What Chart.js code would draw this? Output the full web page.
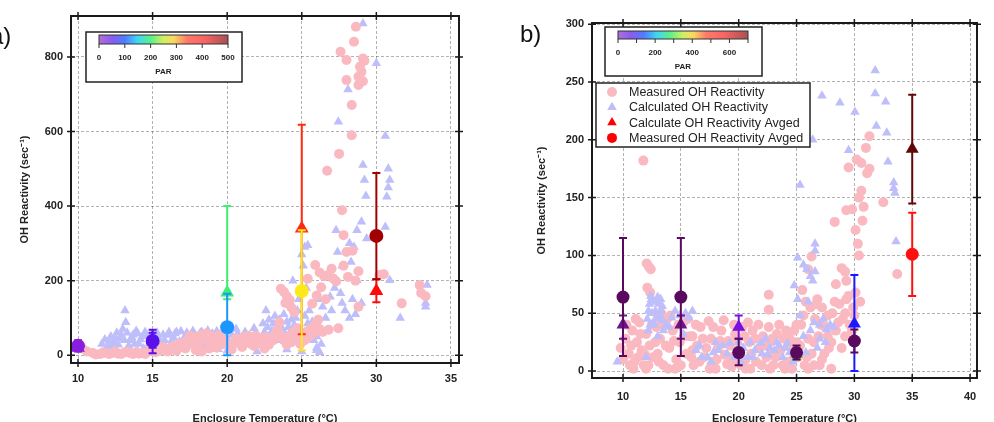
<!DOCTYPE html>
<html>
<head>
<meta charset="utf-8">
<script src="https://cdn.jsdelivr.net/npm/chart.js@4/dist/chart.umd.min.js"></script>
<style>
  html, body { margin: 0; padding: 0; background: #fff; }
  #wrap { position: relative; width: 994px; height: 422px; overflow: hidden; }
  canvas { position: absolute; top: 0; }
  #chartA { left: 0; }
  #chartB { left: 497px; }
</style>
</head>
<body>
<div id="wrap">
  <canvas id="chartA" width="497" height="422"></canvas>
  <canvas id="chartB" width="497" height="422"></canvas>
</div>
<script>
// ---- panel a) data : [temperature, OH reactivity] ----
const measuredA = [
  [10.3,18],[10.6,10],[11.2,2],[11.5,3],[11.9,5],[12.3,6],[12.7,4],[13.1,7],[13.5,5],[13.9,8],
  [14.3,6],[14.7,10],[15.5,12],[15.9,15],[16.2,20],[16.5,26],[16.8,30],[17.1,34],[17.4,40],[17.7,44],
  [18.0,50],[18.3,55],[18.6,58],[18.9,52],[19.2,48],[19.5,55],[17.9,14],[18.3,10],[18.8,18],[19.3,20],
  [19.7,30],[16.6,12],[17.2,18],[20.4,32],[20.8,38],[21.1,48],[21.4,52],[21.7,44],[22.0,38],[22.3,30],
  [22.6,36],[22.9,45],[23.2,55],[23.4,68],[23.5,88],[23.3,62],[21.0,22],[20.3,15],[21.8,25],[22.5,18],
  [23.8,40],[24.1,50],[24.4,62],[24.7,72],[25.0,55],[25.3,62],[25.6,72],[25.9,82],[24.3,35],[24.9,30],
  [11.0,6],[11.7,8],[12.1,3],[12.5,10],[12.9,3],[13.3,10],[13.7,3],[14.1,4],[14.5,3],[14.9,14],
  [15.2,8],[15.7,22],[16.0,10],[16.4,15],[16.9,22],[17.3,26],[17.5,52],[17.8,38],[18.1,28],[18.4,44],
  [18.7,40],[19.0,36],[19.3,40],[19.6,42],[19.9,38],[20.1,26],[20.6,45],[20.9,30],[21.3,38],[21.6,30],
  [21.9,52],[22.2,44],[22.5,48],[22.8,28],[23.1,40],[23.6,50],[24.0,28],[24.6,45],[25.2,40],[25.5,50],
  [25.8,58],[26.2,70],
  [23.6,178],[23.8,170],[24.0,158],[24.2,148],[24.3,128],[24.5,115],[23.9,140],[25.4,205],[25.9,242],[26.2,222],
  [26.5,212],[26.8,216],[27.1,206],[27.3,198],[26.3,182],[26.0,160],[25.7,138],[26.6,150],[26.4,62],[26.8,68],
  [27.45,72],[26.1,95],[27.0,232],[27.8,240],[28.0,277],[27.8,322],[27.7,389],[28.8,225],[28.6,200],[28.8,130],
  [30.2,215],[30.5,217],[31.7,139],[32.9,188],[33.0,167],[33.3,158],[26.7,495],[27.5,540],[28.35,590],[28.35,671],
  [28.0,738],[28.8,747],[29.1,735],[28.8,725],[28.9,774],[29.2,790],[29.1,796],[28.0,792],[27.6,814],[28.5,841],
  [28.63,881],[29.0,760],[28.4,280],[28.1,210]
];
const calculatedA = [
  [11.6,30],[11.8,42],[12.0,25],[12.2,50],[12.4,35],[12.6,60],[12.8,45],[13.0,70],[13.15,120],[13.2,88],
  [13.3,60],[13.5,40],[13.7,55],[13.9,65],[14.1,30],[14.3,50],[14.5,62],[14.7,20],[14.9,45],[15.3,60],
  [15.5,35],[15.7,55],[15.9,20],[16.1,62],[16.3,40],[16.5,58],[16.7,25],[16.9,64],[17.1,45],[17.3,60],
  [17.5,30],[17.7,65],[17.9,50],[18.1,20],[18.3,62],[18.5,40],[18.7,66],[18.9,52],[19.1,30],[19.3,64],
  [19.5,48],[19.7,60],[19.9,25],[20.3,55],[20.6,70],[20.9,45],[21.2,62],[21.5,30],[21.8,72],[22.1,50],
  [11.9,15],[12.1,38],[12.3,22],[12.5,45],[12.7,28],[12.9,55],[13.1,40],[13.4,25],[13.6,48],[13.8,30],
  [14.0,58],[14.2,42],[14.4,18],[14.6,52],[14.8,32],[15.0,58],[15.2,24],[15.4,46],[15.6,14],[15.8,40],
  [16.0,54],[16.2,28],[16.4,48],[16.6,62],[16.8,36],[17.0,18],[17.2,52],[17.4,40],[17.6,56],[17.8,28],
  [18.0,44],[18.2,60],[18.4,26],[18.6,50],[18.8,36],[19.0,58],[19.2,44],[19.4,16],[19.6,36],[19.8,52],
  [20.1,40],[20.4,28],[20.7,58],[21.0,34],[21.3,50],[21.6,42],[21.9,58],[22.2,36],[22.5,62],[22.7,75],
  [23.1,85],[23.3,50],[23.5,95],[23.7,70],[23.9,55],[24.1,75],[24.3,95],[24.5,80],[24.7,120],[24.9,60],
  [25.2,105],[25.4,85],[25.6,60],[25.8,40],[26.0,50],[26.3,30],
  [22.4,85],[22.6,120],[22.8,95],[23.0,65],[23.2,105],[23.4,80],[23.6,40],[23.8,110],[24.0,90],[24.2,60],
  [24.4,130],[24.4,200],[24.6,100],[24.8,150],[25.0,270],[25.2,290],[25.4,295],[25.1,240],[25.3,180],[25.5,120],
  [25.7,90],[25.9,60],[26.0,20],[26.2,8],[26.1,150],[26.4,130],[26.6,100],[26.9,157],[27.0,120],[27.2,180],
  [27.6,166],[27.7,140],[27.9,120],[28.2,100],[28.4,150],[28.6,110],[28.7,201],[27.3,335],[27.4,277],[28.7,335],
  [29.0,358],[29.35,313],[28.2,300],[28.5,290],[28.3,250],[27.7,240],[29.0,140],[29.3,427],[29.2,470],[29.1,510],
  [30.6,344],[30.8,500],[30.9,470],[30.8,450],[30.7,425],[30.6,588],[27.45,626],[28.1,713],[30.0,783],[29.1,890],
  [30.9,201],[31.6,100],[33.4,188],[33.3,140],[33.3,130],[12.5,8],[14.0,10],[16.0,8],[18.0,10],[20.0,12],
  [22.0,10],[24.0,15],[25.0,10],[26.0,13]
];
const avgTempA = [10, 15, 20, 25, 30];
const avgCalcA = [20, 42, 168, 340, 172];
const avgCalcLowA = [12, 20, 150, 56, 142];
const avgCalcHighA = [30, 60, 400, 618, 204];
const avgMeasA = [25, 38, 75, 172, 320];
const avgMeasLowA = [10, 5, 0, 13, 204];
const avgMeasHighA = [40, 68, 165, 335, 489];
const parTicksA = [0, 100, 200, 300, 400, 500];

// ---- panel b) data ----
const measuredB = [
  [9.8,20],[10.2,28],[10.5,15],[10.8,35],[11.0,8],[11.2,25],[11.4,42],[11.6,18],[11.8,5],[12.0,32],
  [12.3,22],[12.6,12],[12.9,38],[13.2,28],[13.5,5],[13.8,45],[14.0,20],[14.3,35],[14.6,10],[14.9,25],
  [15.2,42],[15.5,15],[15.8,30],[16.1,5],[16.4,22],[16.7,38],[17.0,12],[17.4,43],[17.6,28],[17.9,8],
  [18.2,20],[18.5,35],[18.8,14],[19.1,26],[19.4,4],[19.7,32],[20.0,18],[20.3,38],[20.6,10],[20.9,25],
  [21.2,35],[21.5,8],[21.8,20],[22.1,30],[22.4,12],[22.7,25],[23.0,5],[23.3,32],[23.6,18],[23.9,28],
  [24.2,8],[24.5,22],[24.8,35],[25.1,12],[25.4,40],[25.7,5],[26.0,28],[26.3,15],[26.6,45],[26.9,30],
  [27.2,10],[27.5,38],[27.8,20],[28.1,50],[28.4,35],[28.7,58],[29.0,45],[29.3,62],[29.6,40],[29.9,55],
  [29.2,30],[28.0,2],[10.6,5],[11.3,12],[13.0,15],[14.5,2],[16.0,30],[18.0,2],[19.9,8],[21.0,2],
  [22.9,15],[24.0,2],[25.0,25],[26.5,5],[27.7,30],
  [10.0,10],[10.3,40],[10.7,22],[11.1,45],[11.5,32],[11.9,14],[12.2,5],[12.5,40],[12.8,25],[13.1,8],
  [13.4,40],[13.7,22],[14.1,48],[14.4,26],[14.8,40],[15.0,5],[15.3,30],[15.6,45],[16.0,18],[16.3,40],
  [16.6,8],[16.9,28],[17.2,20],[17.8,38],[18.1,10],[18.4,26],[18.7,44],[19.0,6],[19.3,22],[19.6,40],
  [19.9,28],[20.2,5],[20.5,30],[20.8,42],[21.1,15],[21.4,28],[21.7,40],[22.0,5],[22.3,22],[22.6,38],
  [22.9,28],[23.2,12],[23.5,40],[23.8,5],[24.1,35],[24.4,28],[24.7,10],[25.0,40],[25.3,22],[25.6,48],
  [25.9,12],[26.2,55],[26.5,25],[26.8,62],[27.1,40],[27.4,15],[27.7,48],[28.0,25],[28.3,60],[28.6,42],
  [28.9,20],[29.2,50],[29.5,65],[29.8,35],[30.0,48],[10.9,2],[12.0,2],[13.9,2],[15.9,12],[17.5,2],
  [19.4,12],[20.6,2],[22.7,2],[24.6,2],[26.0,2],[27.0,5],
  [11.76,182],[12.05,93],[12.25,90],[12.4,88],[12.1,72],[12.35,68],[22.6,66],[22.6,53],[13.0,48],[13.3,50],
  [25.5,70],[25.8,60],[26.3,99],[26.0,88],[26.7,58],[27.2,55],[28.3,129],[28.9,89],[29.2,86],[28.4,75],
  [29.3,78],[29.5,176],[29.3,139],[29.8,140],[30.1,122],[30.3,110],[30.4,100],[30.4,150],[30.6,156],[30.8,142],
  [31.0,193],[31.3,203],[30.2,183],[30.6,180],[31.3,175],[31.1,171],[30.7,130],[32.5,146],[33.7,84],[30.1,68],
  [30.5,60]
];
const calculatedB = [
  [9.5,8],[12.0,12],[12.1,45],[12.3,58],[12.4,65],[12.6,60],[12.8,52],[13.0,64],[13.2,48],[13.4,56],
  [12.2,35],[12.7,40],[13.0,30],[13.4,44],[13.7,40],[12.5,50],[13.1,58],[14.2,46],[14.5,52],[14.9,48],
  [15.4,50],[15.7,46],[16.0,52],[15.2,32],[16.3,18],[16.8,12],[17.3,12],[17.8,16],[18.6,22],[19.6,12],
  [20.4,20],[21.0,25],[21.4,18],[21.9,24],[22.3,28],[22.7,20],[23.1,18],[23.5,22],[24.0,20],[24.4,16],
  [19.0,15],[20.8,12],[22.0,15],[23.8,12],
  [12.2,52],[12.45,62],[12.9,45],[13.3,52],[12.6,42],[13.5,35],[12.9,60],[12.35,40],[13.25,62],[14.0,38],
  [16.6,22],[17.6,8],[18.2,18],[19.2,24],[19.8,18],[20.2,8],[21.2,12],[22.5,14],[23.3,25],[24.2,24],
  [24.7,8],[18.0,25],[20.0,25],[25.3,48],[26.0,60],[27.6,36],
  [25.3,161],[25.1,98],[24.8,74],[25.1,62],[25.6,92],[25.9,88],[26.2,82],[26.4,78],[26.6,86],[26.6,110],
  [26.6,104],[26.4,200],[27.2,238],[28.75,232],[30.05,224],[29.5,191],[31.8,260],[31.8,240],[32.7,233],[31.9,212],
  [32.8,206],[32.9,181],[33.4,163],[33.4,158],[33.5,154],[33.6,112],[27.0,40],[27.3,45],[26.5,42],[27.9,40],
  [28.2,38],[27.5,25],[26.2,35],[25.6,30],[26.8,20],[25.8,16],[27.0,28]
];
const avgTempB = [10, 15, 20, 25, 30, 35];
const avgCalcB = [40, 40, 38, 15, 41, 192];
const avgCalcLowB = [28, 28, 28, 10, 0, 145];
const avgCalcHighB = [48, 48, 48, 20, 83, 239];
const avgMeasB = [64, 64, 16, 16, 26, 101];
const avgMeasLowB = [13, 13, 5, 10, 16, 65];
const avgMeasHighB = [115, 115, 28, 22, 36, 137];
const parTicksB = [0, 200, 400, 600];

const legendLabels = ['Measured OH Reactivity', 'Calculated OH Reactivity',
  'Calculate OH Reactivity Avged', 'Measured OH Reactivity Avged'];

// marker colours (PAR colour scale)
const calcColorsA = ['#8a1ee0', '#5a10e8', '#3cf070', '#ff2a10', '#ff0a0a'];
const measColorsA = ['#8a1ee0', '#5a10e8', '#1e96ff', '#ffe81a', '#a00000'];
const calcColorsB = ['#6a1490', '#6a1490', '#7a10e0', '#40d040', '#1a1aff', '#600808'];
const measColorsB = ['#5a0a5e', '#5a0a5e', '#5a0a5e', '#5a0a5e', '#5a0a5e', '#ff1010'];

const PINK = 'rgb(250,185,192)';
const LAVENDER = 'rgb(190,190,250)';
const FONT = '"Liberation Sans", Arial, sans-serif';

const toPts = (arr) => arr.map(([x, y]) => ({ x, y }));
const zipPts = (xs, ys) => xs.map((x, i) => ({ x, y: ys[i] }));

// error bars drawn just before their marker dataset
const errorBars = {
  id: 'errorBars',
  beforeDatasetDraw(chart, args) {
    const ds = chart.data.datasets[args.index];
    if (!ds.errLow) return;
    const { ctx, scales: { x, y } } = chart;
    ctx.save();
    ctx.lineWidth = 2;
    ds.data.forEach((p, i) => {
      const px = x.getPixelForValue(p.x);
      const lo = y.getPixelForValue(ds.errLow[i]);
      const hi = y.getPixelForValue(ds.errHigh[i]);
      ctx.strokeStyle = ds.backgroundColor[i];
      ctx.beginPath();
      ctx.moveTo(px, lo); ctx.lineTo(px, hi);
      ctx.moveTo(px - 4, lo); ctx.lineTo(px + 4, lo);
      ctx.moveTo(px - 4, hi); ctx.lineTo(px + 4, hi);
      ctx.stroke();
    });
    ctx.restore();
  }
};

// frame with tick marks on all four sides
const frame = {
  id: 'frame',
  afterDatasetsDraw(chart) {
    const { ctx, chartArea: a, scales: { x, y } } = chart;
    ctx.save();
    ctx.strokeStyle = '#1a1a1a';
    ctx.lineWidth = 1.5;
    ctx.beginPath();
    x.ticks.forEach((t) => {
      const px = x.getPixelForValue(t.value);
      ctx.moveTo(px, a.bottom - 4); ctx.lineTo(px, a.bottom + 4);
      ctx.moveTo(px, a.top - 4); ctx.lineTo(px, a.top + 4);
    });
    y.ticks.forEach((t) => {
      const py = y.getPixelForValue(t.value);
      ctx.moveTo(a.left - 4, py); ctx.lineTo(a.left + 4, py);
      ctx.moveTo(a.right - 4, py); ctx.lineTo(a.right + 4, py);
    });
    ctx.stroke();
    ctx.lineWidth = 2;
    ctx.strokeRect(a.left, a.top, a.right - a.left, a.bottom - a.top);
    ctx.restore();
  }
};

function drawColorbar(ctx, box, bar, ticks, maxPar) {
  ctx.save();
  ctx.fillStyle = '#fff';
  ctx.fillRect(box.x, box.y, box.w, box.h);
  ctx.strokeStyle = '#222';
  ctx.lineWidth = 1.5;
  ctx.strokeRect(box.x, box.y, box.w, box.h);
  const g = ctx.createLinearGradient(bar.x, 0, bar.x + bar.w, 0);
  [[0, '#b070d8'], [0.1, '#8a5cf0'], [0.2, '#4f7cff'], [0.3, '#3fd8f4'], [0.4, '#5cf08a'],
   [0.5, '#d0f060'], [0.58, '#f8d860'], [0.68, '#ff7a6a'], [0.82, '#f86464'], [1, '#a85050']]
    .forEach(([o, c]) => g.addColorStop(o, c));
  ctx.fillStyle = g;
  ctx.fillRect(bar.x, bar.y, bar.w, bar.h);
  ctx.lineWidth = 1;
  ctx.strokeStyle = '#333';
  ctx.strokeRect(bar.x, bar.y, bar.w, bar.h);
  ctx.fillStyle = '#222';
  ctx.font = 'bold 8px ' + FONT;
  ctx.textAlign = 'center';
  ctx.textBaseline = 'middle';
  ctx.beginPath();
  for (let v = 0; v <= maxPar; v += 100) {
    const px = bar.x + bar.w * v / maxPar;
    ctx.moveTo(px, bar.y + bar.h); ctx.lineTo(px, bar.y + bar.h + 4);
  }
  ctx.stroke();
  ticks.forEach((v) => ctx.fillText(String(v), bar.x + bar.w * v / maxPar, bar.y + bar.h + 14));
  ctx.fillText('PAR', bar.x + bar.w / 2, bar.y + bar.h + 28);
  ctx.restore();
}

const decorA = {
  id: 'decorA',
  afterDraw(chart) {
    const ctx = chart.ctx;
    drawColorbar(ctx, { x: 86, y: 32, w: 156, h: 50 }, { x: 99, y: 35, w: 129, h: 9 }, parTicksA, 500);
    ctx.save();
    ctx.fillStyle = '#111';
    ctx.font = '24px ' + FONT;
    ctx.fillText('a)', -10, 44);
    ctx.restore();
  }
};

const decorB = {
  id: 'decorB',
  afterDraw(chart) {
    const ctx = chart.ctx;
    drawColorbar(ctx, { x: 108, y: 27, w: 157, h: 49 }, { x: 121, y: 31, w: 130, h: 8 }, parTicksB, 700);
    ctx.save();
    ctx.fillStyle = '#fff';
    ctx.fillRect(99, 83, 214, 64);
    ctx.strokeStyle = '#222';
    ctx.lineWidth = 1.5;
    ctx.strokeRect(99, 83, 214, 64);
    const marks = [
      { style: 'circle', color: PINK, r: 5 },
      { style: 'triangle', color: LAVENDER, r: 5.5 },
      { style: 'triangle', color: '#ff0000', r: 5.5 },
      { style: 'circle', color: '#ff0000', r: 5 }
    ];
    ctx.font = '12.5px ' + FONT;
    ctx.textBaseline = 'middle';
    legendLabels.forEach((label, i) => {
      const yy = 92 + i * 15.3;
      ctx.fillStyle = marks[i].color;
      Chart.helpers.drawPoint(ctx, { pointStyle: marks[i].style, radius: marks[i].r, rotation: 0, borderWidth: 0 }, 115, yy);
      ctx.fillStyle = '#222';
      ctx.fillText(label, 132, yy + 0.5);
    });
    ctx.font = '24px ' + FONT;
    ctx.textBaseline = 'alphabetic';
    ctx.fillStyle = '#111';
    ctx.fillText('b)', 23, 42);
    ctx.restore();
  }
};

function makeChart(id, o) {
  const tickFont = { family: FONT, size: 11, weight: 'bold' };
  const titleFont = { family: FONT, size: 11, weight: 'bold' };
  return new Chart(document.getElementById(id), {
    type: 'scatter',
    data: {
      datasets: [
        { label: 'avgMeas', data: zipPts(o.avgTemp, o.avgMeas), errLow: o.avgMeasLow, errHigh: o.avgMeasHigh,
          backgroundColor: o.measColors, pointStyle: 'circle', pointRadius: o.avgR, borderWidth: 0, order: 0 },
        { label: 'avgCalc', data: zipPts(o.avgTemp, o.avgCalc), errLow: o.avgCalcLow, errHigh: o.avgCalcHigh,
          backgroundColor: o.calcColors, pointStyle: 'triangle', pointRadius: o.avgR + 1, borderWidth: 0, order: 1 },
        { label: 'measured', data: toPts(o.measured), backgroundColor: PINK, pointStyle: 'circle',
          pointRadius: 5, borderWidth: 0, order: o.pinkOnTop ? 2 : 3 },
        { label: 'calculated', data: toPts(o.calculated), backgroundColor: LAVENDER, pointStyle: 'triangle',
          pointRadius: 5.5, borderWidth: 0, order: o.pinkOnTop ? 3 : 2 }
      ]
    },
    options: {
      responsive: false,
      animation: false,
      devicePixelRatio: 1,
      layout: { padding: o.padding },
      plugins: { legend: { display: false }, tooltip: { enabled: false } },
      scales: {
        x: {
          type: 'linear', min: o.xMin, max: o.xMax,
          ticks: { stepSize: 5, includeBounds: false, font: tickFont, color: '#222', padding: o.xTickPad },
          grid: { color: 'rgba(0,0,0,0.3)', lineWidth: 1, drawTicks: false },
          border: { display: false, dash: [3, 2] },
          title: { display: true, text: 'Enclosure Temperature (°C)', font: titleFont, color: '#222',
                   padding: { top: 0, bottom: -3.5 } },
          afterFit(s) { s.height = o.xHeight; }
        },
        y: {
          type: 'linear', min: o.yMin, max: o.yMax,
          ticks: { stepSize: o.yStep, includeBounds: false, font: tickFont, color: '#222', padding: 8 },
          grid: { color: 'rgba(0,0,0,0.3)', lineWidth: 1, drawTicks: false },
          border: { display: false, dash: [3, 2] },
          title: { display: true, text: 'OH Reactivity (sec⁻¹)', font: titleFont, color: '#222',
                   padding: { top: o.yTitlePad, bottom: 0 } },
          afterFit(s) { s.width = o.yWidth; }
        }
      }
    },
    plugins: [errorBars, frame, o.decor]
  });
}

makeChart('chartA', {
  measured: measuredA, calculated: calculatedA, pinkOnTop: true,
  avgTemp: avgTempA, avgCalc: avgCalcA, avgCalcLow: avgCalcLowA, avgCalcHigh: avgCalcHighA,
  avgMeas: avgMeasA, avgMeasLow: avgMeasLowA, avgMeasHigh: avgMeasHighA,
  calcColors: calcColorsA, measColors: measColorsA, avgR: 7,
  xMin: 9.53, xMax: 35.54, yMin: -21, yMax: 910, yStep: 200,
  padding: { left: 0, top: 16, right: 38, bottom: 0 },
  yWidth: 71, xHeight: 59, xTickPad: 9, yTitlePad: 18.5, decor: decorA
});

makeChart('chartB', {
  measured: measuredB, calculated: calculatedB, pinkOnTop: false,
  avgTemp: avgTempB, avgCalc: avgCalcB, avgCalcLow: avgCalcLowB, avgCalcHigh: avgCalcHighB,
  avgMeas: avgMeasB, avgMeasLow: avgMeasLowB, avgMeasHigh: avgMeasHighB,
  calcColors: calcColorsB, measColors: measColorsB, avgR: 6.5,
  xMin: 7.32, xMax: 40.6, yMin: -6, yMax: 301, yStep: 50,
  padding: { left: 0, top: 23, right: 17, bottom: 0 },
  yWidth: 95, xHeight: 44, xTickPad: 12, yTitlePad: 38, decor: decorB
});
</script>
</body>
</html>
